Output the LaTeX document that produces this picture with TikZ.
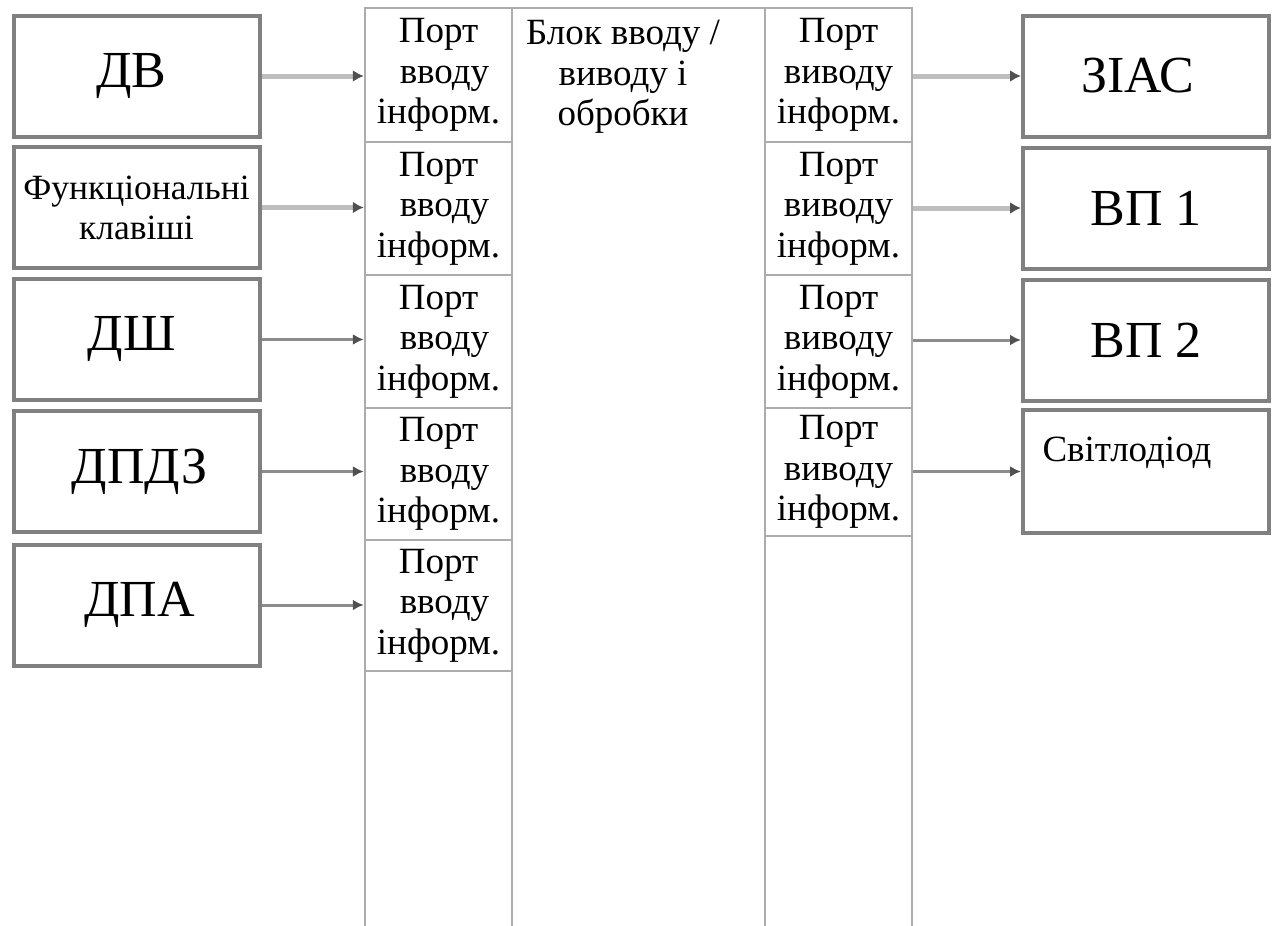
\documentclass[tikz,border=0pt]{standalone}
\usepackage{fontspec}
\setmainfont{Liberation Serif}
\usetikzlibrary{arrows.meta}
\definecolor{boxgray}{RGB}{128,128,128}
\definecolor{colgray}{RGB}{172,172,172}
\definecolor{linelight}{RGB}{190,190,190}
\definecolor{linedark}{RGB}{140,140,140}
\definecolor{tipgray}{RGB}{80,80,80}

\newcommand{\inport}{Порт\\\hspace*{12pt}вводу\\інформ.}
\newcommand{\outport}{Порт\\виводу\\інформ.}

\begin{document}
\begin{tikzpicture}[x=1pt,y=-1pt,
  unitbox/.style={draw=boxgray, line width=4pt, rectangle, minimum width=246pt,
    minimum height=121pt, inner sep=0pt, align=center},
  bigtext/.style={font=\fontsize{52}{60}\selectfont},
  midtext/.style={font=\fontsize{37}{40.5}\selectfont},
  keytext/.style={font=\fontsize{35.5}{40}\selectfont},
  portcell/.style={draw=colgray, line width=2.5pt, rectangle, minimum width=147pt,
    inner sep=0pt, align=center, font=\fontsize{37}{40.5}\selectfont},
  colline/.style={draw=colgray, line width=2.5pt},
  linkA/.style={draw=linelight, line width=5pt,
    -{Latex[length=11pt,width=12pt,color=tipgray]}},
  linkB/.style={draw=linedark, line width=3pt,
    -{Latex[length=11pt,width=11pt,color=tipgray]}}
]
\useasboundingbox (0,0) rectangle (1274,926);

% processing column frame: three stacked columns open at the bottom
\draw[colline] (365,926) -- (365,8) -- (912,8) -- (912,926);
\draw[colline] (512,8) -- (512,926);
\draw[colline] (765,8) -- (765,926);

% input port cells
\node[portcell, minimum height=134pt] (pin1) at (438.5,75)    {\inport};
\node[portcell, minimum height=133pt] (pin2) at (438.5,208.5) {\inport};
\node[portcell, minimum height=133pt] (pin3) at (438.5,341.5) {\inport};
\node[portcell, minimum height=132pt] (pin4) at (438.5,474)   {\inport};
\node[portcell, minimum height=131pt] (pin5) at (438.5,605.5) {\inport};

% output port cells
\node[portcell, minimum height=134pt] (pout1) at (838.5,75)    {\outport};
\node[portcell, minimum height=133pt] (pout2) at (838.5,208.5) {\outport};
\node[portcell, minimum height=133pt] (pout3) at (838.5,341.5) {\outport};
\node[portcell, minimum height=128pt] (pout4) at (838.5,472)   {\outport};

% central processing block caption
\node[midtext, align=center, anchor=north, inner sep=0pt] (blk) at (623,20)
  {Блок вводу /\\виводу і\\обробки};

% sensors and controls
\node[unitbox, bigtext] (dv)   at (136.5,76)    {ДВ\hspace*{10pt}};
\node[unitbox, keytext] (keys) at (136.5,207.5) {Функціональні\\клавіші};
\node[unitbox, bigtext] (dsh)  at (136.5,339.5) {ДШ\hspace*{10pt}};
\node[unitbox, bigtext] (dpdz) at (136.5,471.5) {\hspace*{6pt}ДПДЗ};
\node[unitbox, bigtext] (dpa)  at (136.5,605)   {\hspace*{6pt}ДПА};

% output devices
\node[unitbox, bigtext] (zias) at (1146,76)   {ЗІАС\hspace*{16pt}};
\node[unitbox, bigtext] (vp1)  at (1146,208)  {ВП 1};
\node[unitbox, bigtext] (vp2)  at (1146,340)  {ВП 2};
\node[unitbox, minimum height=123pt] (led) at (1146,471.5) {};
\node[midtext, inner sep=0pt] (ledtext) at (1127,453) {Світлодіод};

% signal flow into the input ports
\draw[linkA] (dv.east)   -- (dv.east -| pin1.west);
\draw[linkA] (keys.east) -- (keys.east -| pin2.west);
\draw[linkB] (dsh.east)  -- (dsh.east -| pin3.west);
\draw[linkB] (dpdz.east) -- (dpdz.east -| pin4.west);
\draw[linkB] (dpa.east)  -- (dpa.east -| pin5.west);

% signal flow out of the output ports
\draw[linkA] (pout1.east |- zias.west) -- (zias.west);
\draw[linkA] (pout2.east |- vp1.west)  -- (vp1.west);
\draw[linkB] (pout3.east |- vp2.west)  -- (vp2.west);
\draw[linkB] (pout4.east |- led.west)  -- (led.west);
\end{tikzpicture}
\end{document}
